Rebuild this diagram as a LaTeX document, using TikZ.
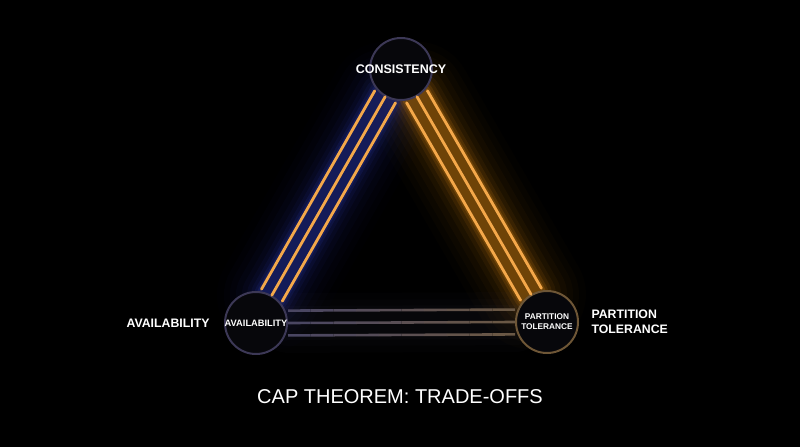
\documentclass[tikz,border=0pt]{standalone}
\usepackage{fontspec}
\setmainfont{Liberation Sans}
\usetikzlibrary{backgrounds,calc}
\definecolor{capbg}{HTML}{000000}
\definecolor{capline}{HTML}{F4A84A}
\definecolor{baseleft}{HTML}{4A4662}
\definecolor{baseright}{HTML}{6E5A42}
\definecolor{glowblue}{HTML}{2A36A8}
\definecolor{glowamber}{HTML}{B8700E}
\definecolor{ringgray}{HTML}{3C3856}
\definecolor{ringamber}{HTML}{6E5636}
\definecolor{discfill}{HTML}{07070B}
\tikzset{
  vertex/.style={circle, minimum size=62, inner sep=0pt, line width=2pt, fill=discfill},
  tag/.style={text=white, align=center, font=\fontsize{#1}{1.2\dimexpr#1pt\relax}\selectfont\bfseries},
  rail/.style={line width=2.8pt, line cap=round},
  glow/.style={line cap=round}
}
\begin{document}
\begin{tikzpicture}[x=1pt, y=-1pt]
  \useasboundingbox (0,0) rectangle (800,447);
  \node[vertex, draw=ringgray] (co) at (401,69) {};
  \node[vertex, draw=ringgray] (av) at (256,323) {};
  \node[vertex, draw=ringamber] (pt) at (547,322) {};
  % glow under the edges
  \begin{pgfonlayer}{background}
    \fill[capbg] (0,0) rectangle (800,447);
    \foreach \w/\o in {110/.025,96/.035,84/.045,72/.06,60/.08,50/.11,42/.16,35/.26,30/.45}{
      \draw[glow, glowblue!70!black, line width=\w, opacity=\o] (av) -- (co);
      \draw[glow, glowamber!80!black, line width=\w, opacity=\o] (co) -- (pt);
    }
    \foreach \w/\o in {60/.03,46/.04,34/.05}
      \draw[glow, baseleft, line width=\w, opacity=\o] (av) -- (pt);
  \end{pgfonlayer}
  % three rails on each edge
  \foreach \s in {-1,0,1}{
    \draw[rail, capline, transform canvas={shift={(10.4*\s,6*\s)}}] (av) -- (co);
    \draw[rail, capline, transform canvas={shift={(10.4*\s,-6*\s)}}] (co) -- (pt);
    \foreach \i [evaluate=\i as \j using int(\i*10)] in {0,...,9}
      \draw[line width=2.6pt, baseright!\j!baseleft, transform canvas={shift={(0,12.4*\s)}}]
        ($(av.east)!\i/10!(pt.west)$) -- ($(av.east)!\i/10+.1!(pt.west)$);
  }
  \node[tag=12.5] (col) at (co) {CONSISTENCY};
  \node[tag=9.3] (avi) at (av) {AVAILABILITY};
  \node[tag=8.3] (pti) at (pt) {PARTITION\\TOLERANCE};
  \node[tag=12.3, anchor=east] (avl) at (213,323) {AVAILABILITY};
  \node[tag=12.3, anchor=west, align=left] (ptl) at (588,322) {PARTITION\\TOLERANCE};
  \node[text=white, font=\fontsize{20}{24}\selectfont] (title) at (400,397) {CAP THEOREM: TRADE-OFFS};
\end{tikzpicture}
\end{document}
